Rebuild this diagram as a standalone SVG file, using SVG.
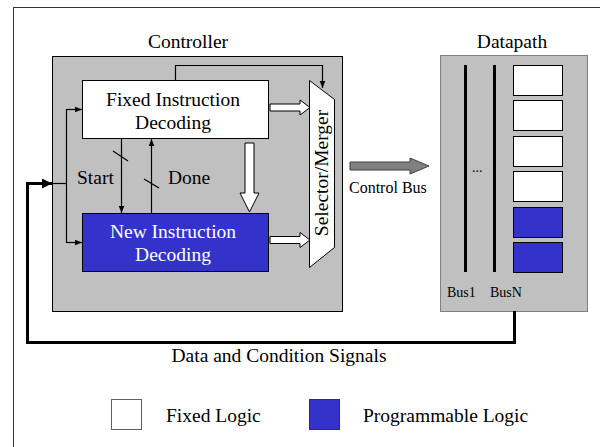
<svg xmlns="http://www.w3.org/2000/svg" width="600" height="447" viewBox="0 0 600 447">
<defs>
<style>
text{font-family:"Liberation Serif","Times New Roman",serif;fill:#000}
.t{font-size:19.5px}
.c{text-anchor:middle}
.thin{stroke:#000;stroke-width:1.2;fill:none}
.hollow{fill:#fff;stroke:#000;stroke-width:1}
.gray{fill:#c0c0c0}
</style>
<marker id="ah" viewBox="0 0 10 10" refX="10" refY="5" markerWidth="7" markerHeight="7" markerUnits="userSpaceOnUse" orient="auto">
<path d="M0,1 L10,5 L0,9 Z" fill="#000"/>
</marker>
<marker id="ahb" viewBox="0 0 10 10" refX="10" refY="5" markerWidth="10" markerHeight="10" markerUnits="userSpaceOnUse" orient="auto">
<path d="M0,0 L10,5 L0,10 Z" fill="#000"/>
</marker>
</defs>
<rect width="600" height="447" fill="#fff"/>
<rect x="13.5" y="7.5" width="600" height="450" fill="none" stroke="#333" stroke-width="1"/>

<g id="controller">
<rect x="52.5" y="56.5" width="290" height="255" class="gray" stroke="#000" stroke-width="1"/>
<text class="t c" x="188" y="48">Controller</text>
</g>

<g id="fixed-decoding">
<rect x="82.5" y="80.5" width="186" height="58" fill="#fff" stroke="#000" stroke-width="1"/>
<text class="t c" x="173" y="106">Fixed Instruction</text>
<text class="t c" x="173" y="129">Decoding</text>
</g>

<g id="new-decoding">
<rect x="82.5" y="213.5" width="186" height="58" fill="#3333cc" stroke="#000" stroke-width="1"/>
<text class="t c" x="173" y="238" style="fill:#fff">New Instruction</text>
<text class="t c" x="173" y="261" style="fill:#fff">Decoding</text>
</g>

<g id="selector-merger">
<polygon points="309.5,80.5 334.5,99.5 334.5,247.5 309.5,267.5" fill="#fff" stroke="#000" stroke-width="1"/>
<text class="t c" transform="translate(328,173) rotate(-90)" x="0" y="0">Selector/Merger</text>
</g>

<g id="datapath">
<rect x="440.5" y="55.5" width="147" height="256" class="gray" stroke="#808080" stroke-width="1"/>
<text class="t c" x="512" y="48">Datapath</text>
<line x1="465.5" y1="65" x2="465.5" y2="272" stroke="#000" stroke-width="3"/>
<line x1="494.5" y1="65" x2="494.5" y2="272" stroke="#000" stroke-width="3"/>
<text x="472" y="172" style="font-size:14px">...</text>
<rect x="513.5" y="65.5" width="49" height="30" fill="#fff" stroke="#000" stroke-width="1"/>
<rect x="513.5" y="100.5" width="49" height="30" fill="#fff" stroke="#000" stroke-width="1"/>
<rect x="513.5" y="136.5" width="49" height="30" fill="#fff" stroke="#000" stroke-width="1"/>
<rect x="513.5" y="171.5" width="49" height="30" fill="#fff" stroke="#000" stroke-width="1"/>
<rect x="513.5" y="207.5" width="49" height="30" fill="#3333cc" stroke="#000" stroke-width="1"/>
<rect x="513.5" y="242.5" width="49" height="30" fill="#3333cc" stroke="#000" stroke-width="1"/>
<text x="447" y="297" style="font-size:14px">Bus1</text>
<text x="490" y="297" style="font-size:14px">BusN</text>
</g>

<g id="connectors">
<!-- feedback from fixed decoding to selector -->
<path class="thin" d="M175.5,80 V65.5 H322.5 V88" marker-end="url(#ah)"/>
<!-- hollow arrows into selector -->
<polygon class="hollow" points="270,104 300,104 300,100 310,107.5 300,115 300,111 270,111"/>
<polygon class="hollow" points="270,236.5 300,236.5 300,232.5 310,240 300,247.5 300,243.5 270,243.5"/>
<!-- vertical hollow arrow -->
<polygon class="hollow" points="245,143 254,143 254,193 259,193 249.5,212 240,193 245,193"/>
<!-- start / done -->
<line class="thin" x1="121.5" y1="139" x2="121.5" y2="213" marker-end="url(#ah)"/>
<line class="thin" x1="113" y1="151" x2="128" y2="161"/>
<line class="thin" x1="151.5" y1="213" x2="151.5" y2="139" marker-end="url(#ah)"/>
<line class="thin" x1="144" y1="179" x2="159" y2="188"/>
<!-- input distribution -->
<line class="thin" x1="52" y1="183.5" x2="66.5" y2="183.5"/>
<path class="thin" d="M82,109.5 H66.5 V242.5 H82"/>
<line class="thin" x1="66.5" y1="109.5" x2="82" y2="109.5" marker-end="url(#ah)"/>
<line class="thin" x1="66.5" y1="242.5" x2="82" y2="242.5" marker-end="url(#ah)"/>
<!-- data and condition signals -->
<path d="M514.5,311 V342.5 H27.5 V183.5 H52" fill="none" stroke="#000" stroke-width="3" marker-end="url(#ahb)"/>
<!-- control bus -->
<polygon points="350,162 410,162 410,158 429,166 410,174 410,170 350,170" fill="#808080" stroke="#404040" stroke-width="1"/>
<text x="349" y="193" style="font-size:16px">Control Bus</text>
<text class="t" x="77" y="184">Start</text>
<text class="t" x="168" y="184">Done</text>
<text class="t c" x="279" y="362">Data and Condition Signals</text>
</g>

<g id="legend-fixed">
<rect x="111.5" y="399.5" width="30" height="30" fill="#fff" stroke="#606060" stroke-width="1"/>
<text class="t" x="166" y="422">Fixed Logic</text>
</g>
<g id="legend-programmable">
<rect x="309.5" y="399.5" width="30" height="30" fill="#3333cc" stroke="#333" stroke-width="1"/>
<text class="t" x="363" y="422">Programmable Logic</text>
</g>
</svg>
